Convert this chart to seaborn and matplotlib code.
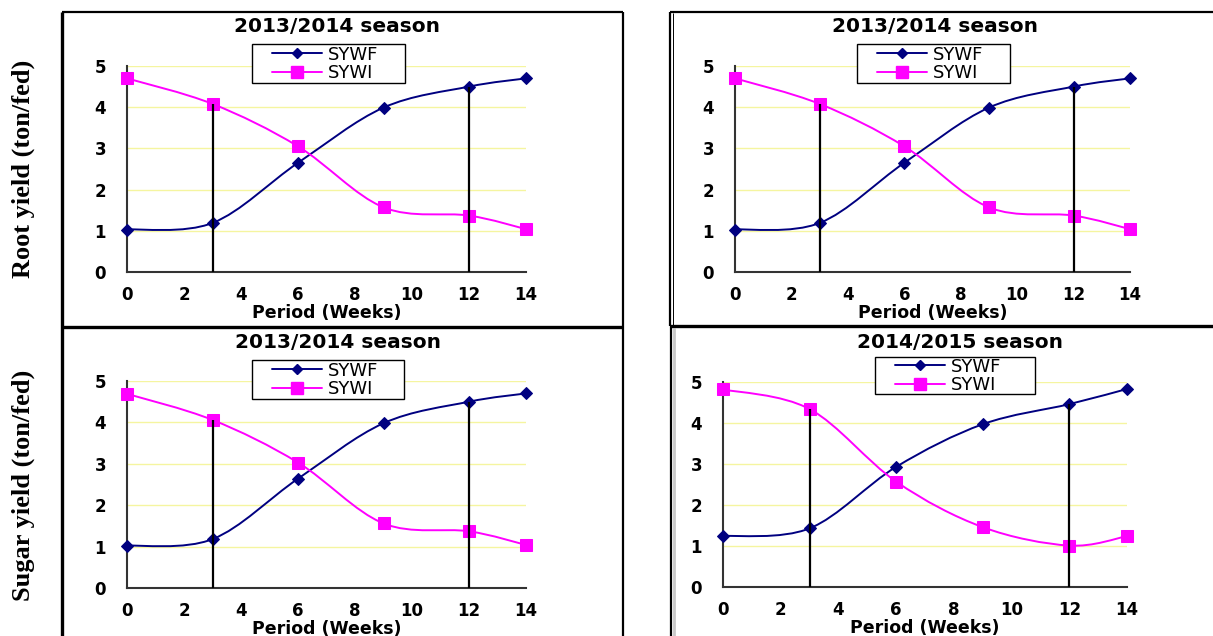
import matplotlib
matplotlib.use('Agg')
import matplotlib.pyplot as plt
import seaborn as sns
from matplotlib.lines import Line2D
from matplotlib.path import Path
from matplotlib.patches import PathPatch, Rectangle

# data
weeks = [0, 3, 6, 9, 12, 14]

root_sywf = [1.03, 1.19, 2.65, 3.99, 4.50, 4.70]
root_sywi = [4.70, 4.08, 3.05, 1.57, 1.37, 1.04]
root2_sywf = [1.03, 1.19, 2.65, 3.99, 4.50, 4.70]
root2_sywi = [4.70, 4.08, 3.05, 1.57, 1.37, 1.04]
sugar_sywf = [1.02, 1.18, 2.64, 3.98, 4.50, 4.70]
sugar_sywi = [4.69, 4.06, 3.03, 1.56, 1.37, 1.04]
sugar2_sywf = [1.24, 1.43, 2.93, 3.97, 4.46, 4.83]
sugar2_sywi = [4.82, 4.34, 2.57, 1.46, 1.01, 1.24]

titles = ['2013/2014 season', '2013/2014 season', '2013/2014 season', '2014/2015 season']
series_names = ['SYWF', 'SYWI']
ylabels = ['Root yield (ton/fed)', 'Sugar yield (ton/fed)']

W, H = 1213, 636
NAVY = '#000080'
MAGENTA = '#ff00ff'

sns.set_style('white')
plt.rcParams['font.family'] = ['DejaVu Sans']
plt.rcParams['text.color'] = 'black'
plt.rcParams['axes.labelcolor'] = 'black'
plt.rcParams['xtick.color'] = 'black'
plt.rcParams['ytick.color'] = 'black'

fig = plt.figure(figsize=(W / 100, H / 100), dpi=100)


def fx(px):
    return px / W


def fy(py):
    return 1 - py / H


def smooth_path(xs, ys):
    # bezier through the points, like excel's smoothed line
    pts = list(zip(xs, ys))
    verts = [pts[0]]
    codes = [Path.MOVETO]
    n = len(pts)
    for i in range(n - 1):
        p0 = pts[max(i - 1, 0)]
        p1 = pts[i]
        p2 = pts[i + 1]
        p3 = pts[min(i + 2, n - 1)]
        c1 = (p1[0] + (p2[0] - p0[0]) / 6, p1[1] + (p2[1] - p0[1]) / 6)
        c2 = (p2[0] - (p3[0] - p1[0]) / 6, p2[1] - (p3[1] - p1[1]) / 6)
        verts += [c1, c2, p2]
        codes += [Path.CURVE4] * 3
    return Path(verts, codes)


# plot area (left, top, right, bottom), title centre, legend box - all in pixels
panels = [
    dict(box=(127, 66, 526, 272), title=(337, 27), leg=(252, 44, 405, 83), f=root_sywf, i=root_sywi),
    dict(box=(735, 66, 1130, 272), title=(935, 27), leg=(857, 44, 1010, 83), f=root2_sywf, i=root2_sywi),
    dict(box=(127, 381, 526, 588), title=(338, 342), leg=(252, 360, 404, 399), f=sugar_sywf, i=sugar_sywi),
    dict(box=(723, 382, 1127, 587), title=(960, 342), leg=(875, 357, 1035, 394), f=sugar2_sywf, i=sugar2_sywi),
]

for k, p in enumerate(panels):
    l, t, r, b = p['box']
    ax = fig.add_axes([fx(l), fy(b), (r - l) / W, (b - t) / H])
    ax.set_xlim(0, 14)
    ax.set_ylim(0, 5)
    for yv in [1, 2, 3, 4, 5]:
        ax.axhline(yv, color='#f5f5a0', lw=1, zorder=0)

    for vals, col, mk, ms in [(p['f'], NAVY, 'D', 6.5), (p['i'], MAGENTA, 's', 9)]:
        ax.add_patch(PathPatch(smooth_path(weeks, vals), fill=False, edgecolor=col,
                               lw=1.4, zorder=2, clip_on=False))
        sns.lineplot(x=weeks, y=vals, ax=ax, color=col, marker=mk, markersize=ms,
                     markeredgecolor=col, linestyle='none', zorder=3, clip_on=False,
                     legend=False)

    ax.vlines(weeks[1], 0, p['i'][1], color='black', lw=1.6, zorder=5)
    ax.vlines(weeks[4], 0, p['f'][4], color='black', lw=1.6, zorder=5)

    ax.set_xticks([0, 2, 4, 6, 8, 10, 12, 14])
    ax.set_yticks([0, 1, 2, 3, 4, 5])
    for s in ['top', 'right']:
        ax.spines[s].set_visible(False)
    for s in ['left', 'bottom']:
        ax.spines[s].set_color('#333333')
        ax.spines[s].set_linewidth(1.5)
    ax.tick_params(axis='y', direction='out', length=6, width=1.2, color='#333333', pad=9,
                   labelsize=12)
    ax.tick_params(axis='x', direction='out', length=3, width=1.2, color='#333333', pad=7,
                   labelsize=12)
    for lab in ax.get_xticklabels() + ax.get_yticklabels():
        lab.set_fontweight('bold')
    ax.set_xlabel('Period (Weeks)', fontsize=12.5, fontweight='bold', labelpad=0)
    ax.set_ylabel('')

    fig.text(fx(p['title'][0]), fy(p['title'][1]), titles[k], ha='center', va='center',
             fontsize=14.5, fontweight='bold')

    # legend box drawn as in the original, entries placed inside it
    bl, bt, br, bb = p['leg']
    fig.add_artist(Rectangle((fx(bl), fy(bb)), (br - bl) / W, (bb - bt) / H,
                             transform=fig.transFigure, facecolor='white',
                             edgecolor='black', lw=1.0, zorder=9))
    handles = [Line2D([], [], color=NAVY, marker='D', markersize=5.5, lw=1.4),
               Line2D([], [], color=MAGENTA, marker='s', markersize=8.5, lw=1.4)]
    leg = fig.legend(handles, series_names, loc='center left',
                     bbox_to_anchor=(fx(bl + 18), fy((bt + bb) / 2 + 0.5)),
                     bbox_transform=fig.transFigure, borderaxespad=0, frameon=False,
                     fontsize=13, handlelength=2.8, handletextpad=0.3, borderpad=0.1,
                     labelspacing=0.05)
    leg.set_zorder(10)

fig.text(fx(23), fy(169), ylabels[0], rotation=90, ha='center', va='center',
         family='Liberation Serif', fontweight='bold', fontsize=19)
fig.text(fx(23), fy(485), ylabels[1], rotation=90, ha='center', va='center',
         family='Liberation Serif', fontweight='bold', fontsize=19)


def frame_line(x0, y0, x1, y1, lw, color='black'):
    fig.add_artist(Line2D([fx(x0), fx(x1)], [fy(y0), fy(y1)], color=color, lw=lw,
                          transform=fig.transFigure, solid_capstyle='butt'))


# cell borders of the original layout
frame_line(62, 12, 623, 12, 1.6)
frame_line(62, 12, 62, 636, 2.4)
frame_line(623, 12, 623, 636, 1.6)
frame_line(62, 327, 623, 327, 2.4)
frame_line(670, 12, 1213, 12, 1.6)
frame_line(670, 12, 670, 326, 1.6)
frame_line(673, 13, 673, 326, 0.7)
frame_line(671, 326, 671, 636, 1.6)
frame_line(674, 328, 674, 636, 2.0, color='#c8c8c8')
frame_line(670, 326, 1213, 326, 2.4)

fig.savefig('out.png', dpi=100)
